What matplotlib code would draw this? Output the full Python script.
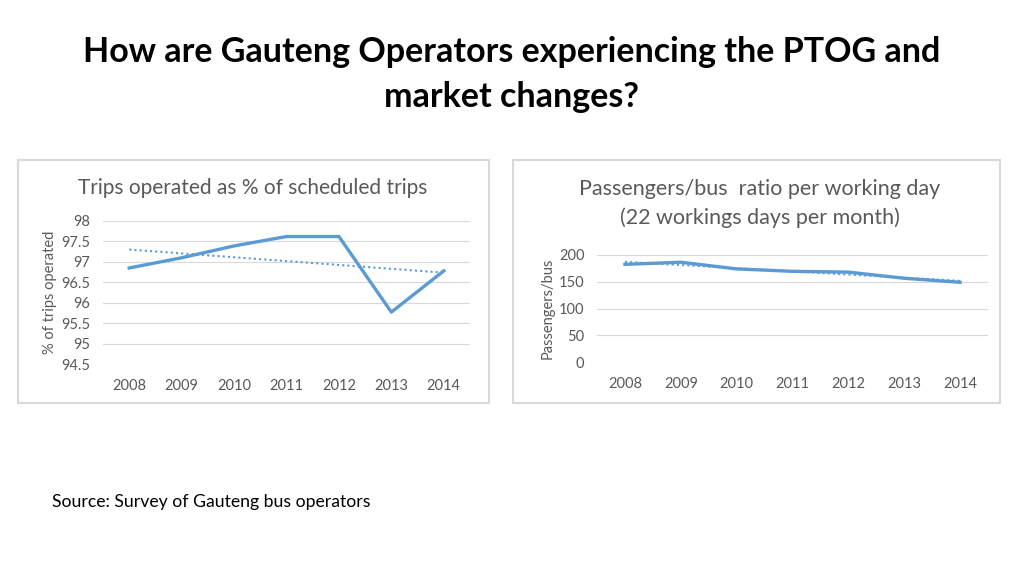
import numpy as np
import matplotlib.pyplot as plt
from matplotlib.patches import Rectangle

# data
years = ['2008', '2009', '2010', '2011', '2012', '2013', '2014']
trips_pct = [96.85, 97.10, 97.39, 97.62, 97.62, 95.77, 96.78]
pass_per_bus = [182.5, 186.5, 174, 169.5, 168, 156.5, 149]

blue = '#5B9BD5'
grey = '#595959'
grid_c = '#D9D9D9'

plt.rcParams['font.family'] = ['Lato', 'DejaVu Sans']

fig = plt.figure(figsize=(10.24, 5.75), dpi=100)
W, H = 1024.0, 575.0

def px_axes(x0, y0, x1, y1):
    # pixel box (top-left origin) -> figure axes
    return fig.add_axes([x0 / W, 1 - y1 / H, (x1 - x0) / W, (y1 - y0) / H])

def panel_box(x0, y0, x1, y1):
    fig.add_artist(Rectangle((x0 / W, 1 - y1 / H), (x1 - x0) / W, (y1 - y0) / H,
                             transform=fig.transFigure, fill=False,
                             edgecolor=grid_c, linewidth=1.5))

def style(ax):
    for s in ax.spines.values():
        s.set_visible(False)
    ax.grid(axis='y', color=grid_c, linewidth=0.8)
    ax.set_axisbelow(True)
    ax.tick_params(length=0, labelsize=10.5, colors=grey)
    ax.tick_params(axis='x', pad=11)
    ax.tick_params(axis='y', pad=9)
    ax.set_xlim(-0.5, len(years) - 0.5)
    ax.set_xticks(range(len(years)))
    ax.set_xticklabels(years)

x = np.arange(len(years))

# main title
fig.text(0.5, 1 - 52 / H, 'How are Gauteng Operators experiencing the PTOG and',
         ha='center', va='center', fontsize=24.5, fontweight='bold')
fig.text(0.5, 1 - 97 / H, 'market changes?',
         ha='center', va='center', fontsize=24.5, fontweight='bold')

# left chart
panel_box(18, 160, 489, 403)
ax1 = px_axes(103, 221, 470, 364)
style(ax1)
ax1.set_ylim(94.5, 98)
ax1.set_yticks(np.arange(94.5, 98.01, 0.5))
ax1.set_yticklabels(['94.5', '95', '95.5', '96', '96.5', '97', '97.5', '98'])
ax1.plot(x, trips_pct, color=blue, linewidth=2.4, solid_joinstyle='round')
trend1 = np.polyval(np.polyfit(x, trips_pct, 1), x)
ax1.plot(x, trend1, color=blue, linewidth=1.5, linestyle=(0, (1, 1.5)))
ax1.set_ylabel('% of trips operated', fontsize=10.5, color=grey, labelpad=3)
fig.text(253 / W, 1 - 188 / H, 'Trips operated as % of scheduled trips',
         ha='center', va='center', fontsize=15, color=grey)

# right chart
panel_box(513, 160, 1000, 403)
ax2 = px_axes(597, 255, 988, 362)
style(ax2)
ax2.set_ylim(0, 200)
ax2.set_yticks([0, 50, 100, 150, 200])
ax2.plot(x, pass_per_bus, color=blue, linewidth=2.4, solid_joinstyle='round')
trend2 = np.polyval(np.polyfit(x, pass_per_bus, 1), x)
ax2.plot(x, trend2, color=blue, linewidth=1.5, linestyle=(0, (1, 1.5)))
ax2.set_ylabel('Passengers/bus', fontsize=10.5, color=grey, labelpad=3)
fig.text(760 / W, 1 - 189 / H, 'Passengers/bus  ratio per working day',
         ha='center', va='center', fontsize=15.5, color=grey)
fig.text(760 / W, 1 - 218 / H, '(22 workings days per month)',
         ha='center', va='center', fontsize=15.5, color=grey)

# source note
fig.text(52 / W, 1 - 502 / H, 'Source: Survey of Gauteng bus operators',
         ha='left', va='center', fontsize=12.7)

fig.savefig('out.png', dpi=100)
